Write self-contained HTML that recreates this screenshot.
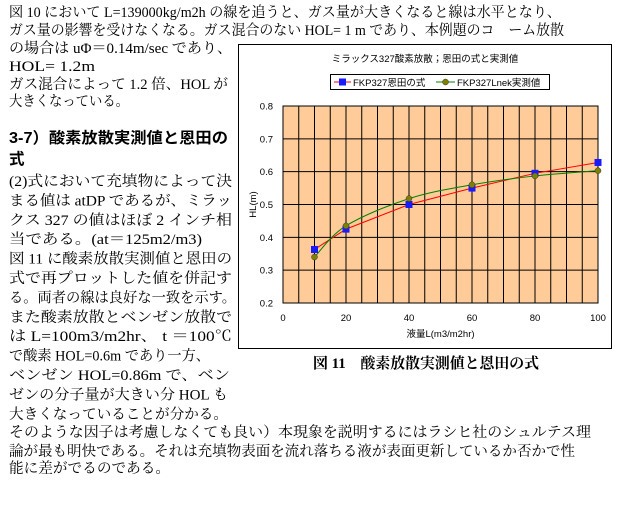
<!DOCTYPE html>
<html><head><meta charset="utf-8">
<style>
html,body{margin:0;padding:0;background:#fff;}
svg{display:block;}
.t{font-family:"Liberation Serif","Noto Serif CJK JP",serif;font-size:14.5px;fill:#000;}
.h{font-family:"Liberation Sans","Noto Sans CJK JP",sans-serif;font-size:15.5px;font-weight:bold;fill:#000;}
.c{font-family:"Liberation Sans","Noto Sans CJK JP",sans-serif;font-size:9.5px;fill:#000;}
.cap{font-family:"Liberation Serif","Noto Serif CJK JP",serif;font-size:15px;font-weight:bold;fill:#000;}
</style></head>
<body>
<svg id="page" width="631" height="508" viewBox="0 0 631 508" xmlns="http://www.w3.org/2000/svg">
<g>
<text class="t" x="9" y="17" textLength="552" lengthAdjust="spacingAndGlyphs">図 10 において L=139000kg/m2h の線を追うと、ガス量が大きくなると線は水平となり、</text>
<text class="t" x="9" y="35" textLength="555" lengthAdjust="spacingAndGlyphs">ガス量の影響を受けなくなる。ガス混合のない HOL= 1 m であり、本例題のコ　ーム放散</text>
<text class="t" x="9" y="53" textLength="223" lengthAdjust="spacingAndGlyphs">の場合は uΦ＝0.14m/sec であり、</text>
<text class="t" x="9" y="71" textLength="86" lengthAdjust="spacingAndGlyphs">HOL= 1.2m</text>
<text class="t" x="9" y="89" textLength="219" lengthAdjust="spacingAndGlyphs">ガス混合によって 1.2 倍、HOL が</text>
<text class="t" x="9" y="106" textLength="120" lengthAdjust="spacingAndGlyphs">大きくなっている。</text>
<text class="h" x="9" y="143" textLength="219" lengthAdjust="spacingAndGlyphs">3-7）酸素放散実測値と恩田の</text>
<text class="h" x="9" y="164">式</text>
<text class="t" x="9" y="186" textLength="223" lengthAdjust="spacingAndGlyphs">(2)式において充填物によって決</text>
<text class="t" x="9" y="205.4" textLength="223" lengthAdjust="spacingAndGlyphs">まる値は atDP であるが、ミラッ</text>
<text class="t" x="9" y="224.8" textLength="223" lengthAdjust="spacingAndGlyphs">クス 327 の値はほぼ 2 インチ相</text>
<text class="t" x="9" y="244.2" textLength="193" lengthAdjust="spacingAndGlyphs">当である。(at＝125m2/m3)</text>
<text class="t" x="9" y="263.6" textLength="223" lengthAdjust="spacingAndGlyphs">図 11 に酸素放散実測値と恩田の</text>
<text class="t" x="9" y="283" textLength="223" lengthAdjust="spacingAndGlyphs">式で再プロットした値を併記す</text>
<text class="t" x="9" y="302.4" textLength="227" lengthAdjust="spacingAndGlyphs">る。両者の線は良好な一致を示す。</text>
<text class="t" x="9" y="321.8" textLength="223" lengthAdjust="spacingAndGlyphs">また酸素放散とベンゼン放散で</text>
<text class="t" x="9" y="341.2" textLength="223" lengthAdjust="spacingAndGlyphs">は L=100m3/m2hr、 t ＝100℃</text>
<text class="t" x="9" y="360.6" textLength="201" lengthAdjust="spacingAndGlyphs">で酸素 HOL=0.6m であり一方、</text>
<text class="t" x="9" y="380" textLength="221" lengthAdjust="spacingAndGlyphs">ベンゼン HOL=0.86m で、ベン</text>
<text class="t" x="9" y="399.4" textLength="219" lengthAdjust="spacingAndGlyphs">ゼンの分子量が大きい分 HOL も</text>
<text class="t" x="9" y="418.8" textLength="219" lengthAdjust="spacingAndGlyphs">大きくなっていることが分かる。</text>
<text class="t" x="9" y="437" textLength="582" lengthAdjust="spacingAndGlyphs">そのような因子は考慮しなくても良い）本現象を説明するにはラシヒ社のシュルテス理</text>
<text class="t" x="9" y="456" textLength="566" lengthAdjust="spacingAndGlyphs">論が最も明快である。それは充填物表面を流れ落ちる液が表面更新しているか否かで性</text>
<text class="t" x="9" y="473" textLength="161" lengthAdjust="spacingAndGlyphs">能に差がでるのである。</text>
</g>
<rect x="238.5" y="44.5" width="373" height="304" fill="#fff" stroke="#000" stroke-width="1"/>
<text class="c" x="425" y="62" text-anchor="middle">ミラックス327酸素放散；恩田の式と実測値</text>
<g id="legend">
<rect x="330.5" y="74.5" width="219" height="15" fill="#fff" stroke="#000"/>
<line x1="334" y1="82" x2="351" y2="82" stroke="#ff0000" stroke-width="1"/>
<rect x="339" y="78.5" width="7" height="7" fill="#1a1aff"/>
<text class="c" x="353" y="86">FKP327恩田の式</text>
<line x1="436" y1="82" x2="455" y2="82" stroke="#008000" stroke-width="1"/>
<circle cx="445.5" cy="82" r="3" fill="#808000" stroke="#333" stroke-width="0.5"/>
<text class="c" x="457" y="86">FKP327Lnek実測値</text>
</g>
<g id="plot"></g>
<text class="cap" x="313" y="368" textLength="226" lengthAdjust="spacingAndGlyphs">図 11　酸素放散実測値と恩田の式</text>
</svg>
<script>
const xValues = [10, 20, 40, 60, 80, 100];
const ondaValues = [0.363, 0.425, 0.50, 0.55, 0.595, 0.628];
const measuredValues = [0.34, 0.435, 0.518, 0.56, 0.587, 0.603];
const xTicks = [0, 20, 40, 60, 80, 100];
const yTicks = [0.2, 0.3, 0.4, 0.5, 0.6, 0.7, 0.8];

const NS = "http://www.w3.org/2000/svg";
const L = 283, R = 598, T = 106, B = 303;
const xMin = 0, xMax = 100, yMin = 0.2, yMax = 0.8;
function sx(v){ return L + (v - xMin) / (xMax - xMin) * (R - L); }
function sy(v){ return B - (v - yMin) / (yMax - yMin) * (B - T); }
const g = document.getElementById('plot');
function mk(tag, attrs){ const e = document.createElementNS(NS, tag); for (const k in attrs) e.setAttribute(k, attrs[k]); g.appendChild(e); return e; }

let bg = mk('rect', {x: L, y: T, width: R - L, height: B - T, fill: '#ffcc99'});



for (let v = xMin + 5; v < xMax; v += 5) {
  let ln = mk('line', {x1: sx(v), y1: T, x2: sx(v), y2: B, stroke: '#000', 'stroke-width': 1});
  
  
}
yTicks.forEach(v => {
  let ln = mk('line', {x1: L, y1: sy(v), x2: R, y2: sy(v), stroke: '#000', 'stroke-width': 1});
  
  
  let t = mk('text', {x: L - 10, y: sy(v) + 3.5, 'text-anchor': 'end', class: 'c'});
  t.textContent = String(v);
  
  
});
let frame = mk('rect', {x: L, y: T, width: R - L, height: B - T, fill: 'none', stroke: '#000', 'stroke-width': 1});


xTicks.forEach(v => {
  let t = mk('text', {x: sx(v), y: 321, 'text-anchor': 'middle', class: 'c'});
  t.textContent = String(v);
  
  
});
let xt = mk('text', {x: (L + R) / 2, y: 337, 'text-anchor': 'middle', class: 'c'});
xt.textContent = '液量L(m3/m2hr)';


let yt = mk('text', {x: 0, y: 0, 'text-anchor': 'middle', class: 'c', transform: 'translate(256,' + ((T + B) / 2) + ') rotate(-90)'});
yt.textContent = 'HL(m)';



// Onda series: straight segments
let ondaPts = xValues.map((x, i) => sx(x) + ',' + sy(ondaValues[i])).join(' ');
let ondaLine = mk('polyline', {points: ondaPts, fill: 'none', stroke: '#ff0000', 'stroke-width': 1});



// Measured series: smoothed (Catmull-Rom)
const mp = xValues.map((x, i) => [sx(x), sy(measuredValues[i])]);
let d = 'M' + mp[0][0] + ',' + mp[0][1];
for (let i = 0; i < mp.length - 1; i++) {
  const p0 = mp[Math.max(i - 1, 0)], p1 = mp[i], p2 = mp[i + 1], p3 = mp[Math.min(i + 2, mp.length - 1)];
  const c1 = [p1[0] + (p2[0] - p0[0]) / 6, p1[1] + (p2[1] - p0[1]) / 6];
  const c2 = [p2[0] - (p3[0] - p1[0]) / 6, p2[1] - (p3[1] - p1[1]) / 6];
  d += ' C' + c1[0] + ',' + c1[1] + ' ' + c2[0] + ',' + c2[1] + ' ' + p2[0] + ',' + p2[1];
}
let measLine = mk('path', {d: d, fill: 'none', stroke: '#008000', 'stroke-width': 1});



xValues.forEach((x, i) => {
  let r = mk('rect', {x: sx(x) - 3.5, y: sy(ondaValues[i]) - 3.5, width: 7, height: 7, fill: '#1a1aff'});
  
  
});
xValues.forEach((x, i) => {
  let c = mk('circle', {cx: sx(x), cy: sy(measuredValues[i]), r: 3, fill: '#808000', stroke: '#333', 'stroke-width': 0.5});
  
  
});
</script>
</body></html>
